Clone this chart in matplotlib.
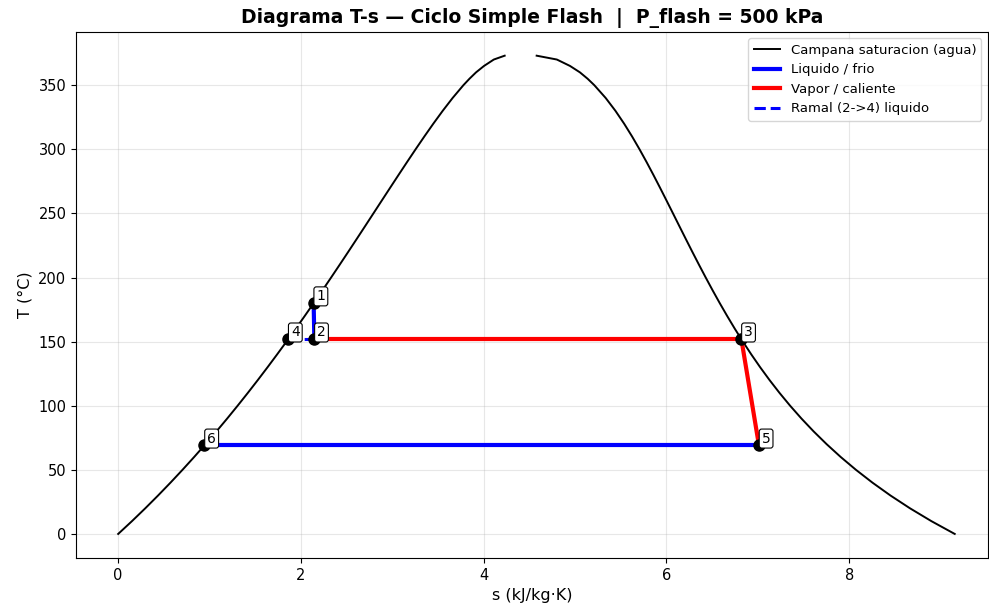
import numpy as np
import matplotlib.pyplot as plt

# campana de saturacion del agua (T en C, s en kJ/kg-K)
T_sat = [0.01, 10, 20, 30, 40, 50, 60, 70, 80, 90, 100, 110, 120, 130, 140, 150,
         160, 170, 180, 190, 200, 210, 220, 230, 240, 250, 260, 270, 280, 290,
         300, 310, 320, 330, 340, 350, 355, 360, 365, 370, 373]
s_liq = [0.0000, 0.1511, 0.2965, 0.4368, 0.5724, 0.7038, 0.8313, 0.9551, 1.0756,
         1.1929, 1.3072, 1.4188, 1.5279, 1.6346, 1.7392, 1.8418, 1.9426, 2.0417,
         2.1392, 2.2355, 2.3305, 2.4245, 2.5177, 2.6101, 2.7020, 2.7935, 2.8849,
         2.9765, 3.0685, 3.1612, 3.2552, 3.3510, 3.4494, 3.5518, 3.6601, 3.7784,
         3.8444, 3.9167, 4.0040, 4.1112, 4.2300]
s_vap = [9.1556, 8.8999, 8.6661, 8.4520, 8.2555, 8.0748, 7.9081, 7.7540, 7.6111,
         7.4781, 7.3541, 7.2381, 7.1291, 7.0264, 6.9293, 6.8371, 6.7491, 6.6650,
         6.5840, 6.5059, 6.4302, 6.3563, 6.2840, 6.2128, 6.1423, 6.0721, 6.0016,
         5.9304, 5.8579, 5.7834, 5.7059, 5.6244, 5.5372, 5.4422, 5.3356, 5.2110,
         5.1380, 5.0536, 4.9450, 4.8012, 4.5800]

# estados del ciclo
estados = ['1', '2', '3', '4', '5', '6']
s_est = [2.1392, 2.1470, 6.8207, 1.8604, 7.0130, 0.9441]
T_est = [180.0, 151.83, 151.83, 151.83, 69.10, 69.10]

P = dict(zip(estados, zip(s_est, T_est)))

fig, ax = plt.subplots(figsize=(9.89, 6.11), dpi=100)
fig.subplots_adjust(left=0.077, right=0.999, top=0.948, bottom=0.087)

ax.plot(s_liq, T_sat, color='black', lw=1.4, label='Campana saturacion (agua)')
ax.plot(s_vap, T_sat, color='black', lw=1.4)

def seg(a, b, **kw):
    ax.plot([P[a][0], P[b][0]], [P[a][1], P[b][1]], **kw)

seg('1', '2', color='blue', lw=3, label='Liquido / frio')
seg('2', '3', color='red', lw=3, label='Vapor / caliente')
seg('3', '5', color='red', lw=3)
seg('5', '6', color='blue', lw=3)
seg('4', '2', color='blue', lw=2.2, ls='--', label='Ramal (2->4) liquido')

for k in estados:
    s, T = P[k]
    ax.plot(s, T, 'o', color='black', ms=8, zorder=5)
    ax.annotate(k, (s, T), xytext=(2, 2), textcoords='offset points', fontsize=10,
                bbox=dict(boxstyle='round,pad=0.18', fc='white', ec='black', lw=0.8),
                zorder=6)

ax.set_xlim(-0.46, 9.52)
ax.tick_params(labelsize=10.5)
ax.set_xlabel('s (kJ/kg·K)', fontsize=11.5)
ax.set_ylabel('T (°C)', fontsize=11.5)
ax.set_title('Diagrama T-s — Ciclo Simple Flash  |  P_flash = 500 kPa',
             fontsize=13.5, fontweight='bold')
ax.grid(True, alpha=0.3)
ax.legend(loc='upper right', fontsize=9.5)

fig.savefig('out.png', dpi=100)
